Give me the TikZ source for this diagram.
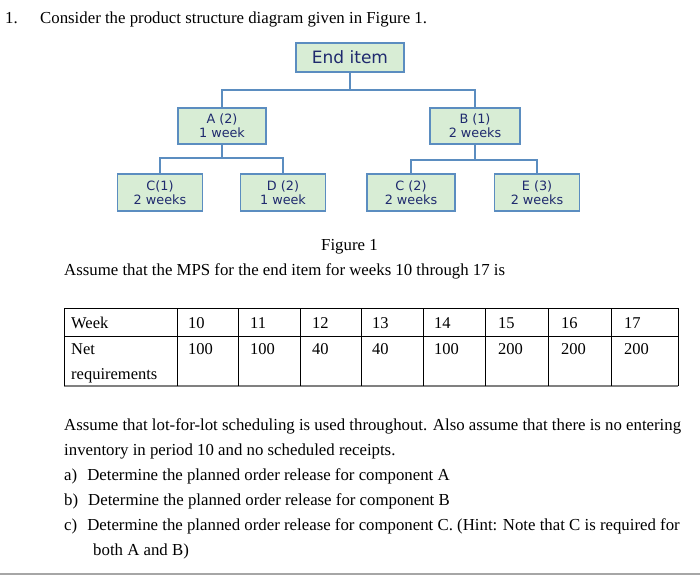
\documentclass[tikz,border=0pt]{standalone}
\usepackage{fontspec}
\setmainfont{Liberation Serif}
\newfontfamily\boxfont{DejaVu Sans}
\definecolor{bfill}{HTML}{D8EDD5}
\definecolor{bline}{HTML}{5B8DC0}
\definecolor{btext}{HTML}{1F2A6E}
\begin{document}
\begin{tikzpicture}[x=1pt,y=-1pt,
  box/.style={draw=bline,line width=1.3pt,fill=bfill,text=btext,font=\boxfont\fontsize{12.8}{14}\selectfont,align=center,inner sep=0pt},
  con/.style={draw=bline,line width=1.5pt},
  txt/.style={anchor=base west,inner sep=0pt,font=\fontsize{16.8}{18}\selectfont},
  cell/.style={anchor=base west,inner sep=0pt,font=\fontsize{16.5}{18}\selectfont}]
\useasboundingbox (0,0) rectangle (700,578);
\node[txt] (n1) at (5,24) {1.};
\node[txt] (t1) at (40,24) {Consider the product structure diagram given in Figure 1.};
% boxes
\node[box,minimum width=108pt,minimum height=29pt,font=\boxfont\fontsize{17}{19}\selectfont] (end) at (350,57.5) {End item};
\node[box,minimum width=88pt,minimum height=36pt] (A) at (222,126) {A (2)\\1 week};
\node[box,minimum width=90pt,minimum height=36pt] (B) at (475,126) {B (1)\\2 weeks};
\node[box,minimum width=85pt,minimum height=37pt] (C1) at (160,192.5) {C(1)\\2 weeks};
\node[box,minimum width=85pt,minimum height=37pt] (D) at (283,192.5) {D (2)\\1 week};
\node[box,minimum width=88pt,minimum height=37pt] (C2) at (411,192.5) {C (2)\\2 weeks};
\node[box,minimum width=85pt,minimum height=37pt] (E) at (537,192.5) {E (3)\\2 weeks};
\coordinate (j0) at (350,90);
\draw[con] (end.south) -- (j0);
\draw[con] (A.north) |- (j0) -| (B.north);
\coordinate (ja) at (222,158);
\draw[con] (A.south) -- (ja);
\draw[con] (C1.north) |- (ja) -| (D.north);
\coordinate (jb) at (475,160);
\draw[con] (B.south) -- (jb);
\draw[con] (C2.north) |- (jb) -| (E.north);
\node[txt] (fig) at (321,250) {Figure 1};
\node[txt] (mps) at (64,275) {Assume that the MPS for the end item for weeks 10 through 17 is};
% table
\draw[line width=0.6pt] (64,308) -- (678,308);
\draw[line width=0.6pt] (64,336) -- (678,336);
\draw[line width=2pt,gray] (64,386) -- (678,386);
\foreach \x in {64,177,238,300,361,423,485,548,611,678}
  \draw[line width=0.6pt] (\x,308) -- (\x,386);
\node[cell] (w) at (71,328) {Week};
\node[cell] (nr) at (71,354) {Net};
\node[cell] (rq) at (71,379) {requirements};
\foreach \x/\a/\b in {188/10/100,250/11/100,312/12/40,372/13/40,434/14/100,498/15/200,561/16/200,624/17/200}{
  \node[cell] at (\x,328) {\a};
  \node[cell] at (\x,354) {\b};}
\node[txt] (p1) at (64,430) {Assume that lot-for-lot scheduling is used throughout. Also assume that there is no entering};
\node[txt] (p2) at (64,455) {inventory in period 10 and no scheduled receipts.};
\node[txt] (pa) at (64,480) {a)\hspace{10pt}Determine the planned order release for component A};
\node[txt] (pb) at (64,505) {b)\hspace{10pt}Determine the planned order release for component B};
\node[txt] (pc) at (64,530) {c)\hspace{10pt}Determine the planned order release for component C. (Hint: Note that C is required for};
\node[txt] (pd) at (93,555) {both A and B)};
\draw[line width=1.5pt,gray!70] (0,574) -- (700,574);
\end{tikzpicture}
\end{document}
